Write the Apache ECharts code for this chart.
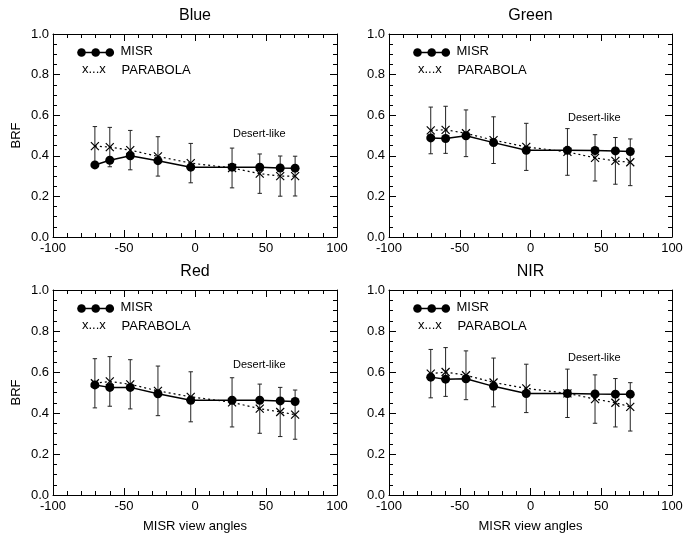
<!DOCTYPE html>
<html>
<head>
<meta charset="utf-8">
<script src="https://cdn.jsdelivr.net/npm/echarts@6/dist/echarts.min.js"></script>
<style>
  html, body { margin: 0; padding: 0; background: #fff; }
  #chart { width: 697px; height: 535px; }
</style>
</head>
<body>
<div id="chart"></div>
<script>
// MISR view angles (deg)
const angles = [-70.5, -60, -45.6, -26.1, -3, 26.1, 45.6, 60, 70.5]

const panelNames = ['Blue', 'Green', 'Red', 'NIR']

const misrBlue = [0.355, 0.378, 0.400, 0.376, 0.344, 0.344, 0.344, 0.340, 0.339]
const parBlue = [0.448, 0.443, 0.428, 0.397, 0.364, 0.340, 0.312, 0.300, 0.300]
const errBlue = [0.096, 0.097, 0.097, 0.097, 0.097, 0.098, 0.097, 0.099, 0.098]

const misrGreen = [0.488, 0.485, 0.499, 0.465, 0.427, 0.427, 0.426, 0.424, 0.421]
const parGreen = [0.525, 0.528, 0.511, 0.477, 0.444, 0.419, 0.390, 0.375, 0.368]
const errGreen = [0.115, 0.116, 0.115, 0.115, 0.116, 0.115, 0.114, 0.115, 0.115]

const misrRed = [0.537, 0.525, 0.525, 0.494, 0.462, 0.462, 0.462, 0.459, 0.456]
const parRed = [0.545, 0.554, 0.540, 0.508, 0.479, 0.452, 0.421, 0.405, 0.392]
const errRed = [0.120, 0.121, 0.120, 0.121, 0.122, 0.120, 0.120, 0.120, 0.120]

const misrNir = [0.575, 0.565, 0.567, 0.530, 0.495, 0.495, 0.493, 0.492, 0.492]
const parNir = [0.592, 0.600, 0.584, 0.549, 0.520, 0.496, 0.468, 0.450, 0.430]
const errNir = [0.118, 0.119, 0.119, 0.119, 0.118, 0.118, 0.118, 0.118, 0.118]

const misrAll = [misrBlue, misrGreen, misrRed, misrNir]
const parAll = [parBlue, parGreen, parRed, parNir]
const errAll = [errBlue, errGreen, errRed, errNir]

const FONT = '"Liberation Sans", Arial, Helvetica, sans-serif'

// panel boxes (px)
const grids = [
  { left: 53, top: 34, width: 284, height: 203 },
  { left: 389, top: 34, width: 283, height: 203 },
  { left: 53, top: 290, width: 284, height: 205 },
  { left: 389, top: 290, width: 283, height: 205 }
]
// where "Desert-like" sits in each panel
const notePos = [[233, 134], [568, 118], [233, 365], [568, 358]]

const crossPath = 'path://M0,0L10,10M10,0L0,10'

const xAxes = []
const yAxes = []
const series = []
const graphics = []

function errorBars(params, api) {
  const x = api.value(0)
  const lo = api.coord([x, api.value(1)])
  const hi = api.coord([x, api.value(2)])
  const cap = 2.2
  const st = { stroke: '#222', lineWidth: 1 }
  return {
    type: 'group',
    children: [
      { type: 'line', shape: { x1: lo[0], y1: lo[1], x2: hi[0], y2: hi[1] }, style: st },
      { type: 'line', shape: { x1: hi[0] - cap, y1: hi[1], x2: hi[0] + cap, y2: hi[1] }, style: st },
      { type: 'line', shape: { x1: lo[0] - cap, y1: lo[1], x2: lo[0] + cap, y2: lo[1] }, style: st }
    ]
  }
}

grids.forEach((g, i) => {
  const bottomRow = i >= 2
  const leftCol = i % 2 === 0
  const tick = { show: true, inside: true, length: 7, lineStyle: { color: '#000', width: 1 } }
  const axisLine = { show: true, onZero: false, lineStyle: { color: '#000', width: 1 } }
  const xMinor = { show: true, splitNumber: 5, length: 4, lineStyle: { color: '#000' } }
  const yMinor = { show: true, splitNumber: 4, length: 4, lineStyle: { color: '#000' } }

  xAxes.push({
    gridIndex: i, type: 'value', position: 'bottom', min: -100, max: 100, interval: 50,
    axisLine: axisLine, axisTick: tick, minorTick: xMinor,
    splitLine: { show: false },
    axisLabel: { color: '#000', fontSize: 13, fontFamily: FONT, margin: 5 },
    name: bottomRow ? 'MISR view angles' : '',
    nameLocation: 'middle', nameGap: 25,
    nameTextStyle: { color: '#000', fontSize: 13, fontFamily: FONT }
  })
  xAxes.push({
    gridIndex: i, type: 'value', position: 'top', min: -100, max: 100, interval: 50,
    axisLine: axisLine, axisTick: tick, minorTick: xMinor,
    splitLine: { show: false }, axisLabel: { show: false }
  })
  yAxes.push({
    gridIndex: i, type: 'value', position: 'left', min: 0, max: 1, interval: 0.2,
    axisLine: axisLine, axisTick: tick, minorTick: yMinor,
    splitLine: { show: false },
    axisLabel: { color: '#000', fontSize: 13, fontFamily: FONT, margin: 4, formatter: v => v.toFixed(1) },
    name: leftCol ? 'BRF' : '',
    nameLocation: 'middle', nameGap: 30,
    nameTextStyle: { color: '#000', fontSize: 13, fontFamily: FONT }
  })
  yAxes.push({
    gridIndex: i, type: 'value', position: 'right', min: 0, max: 1, interval: 0.2,
    axisLine: axisLine, axisTick: tick, minorTick: yMinor,
    splitLine: { show: false }, axisLabel: { show: false }
  })

  const par = parAll[i]
  const err = errAll[i]
  series.push({
    type: 'custom', xAxisIndex: 2 * i, yAxisIndex: 2 * i,
    renderItem: errorBars,
    data: angles.map((a, k) => [a, par[k] - err[k], par[k] + err[k]]),
    z: 2
  })
  series.push({
    name: 'PARABOLA', type: 'line', xAxisIndex: 2 * i, yAxisIndex: 2 * i,
    data: angles.map((a, k) => [a, par[k]]),
    symbol: crossPath, symbolSize: 8,
    itemStyle: { color: 'transparent', borderColor: '#000', borderWidth: 1.2 },
    lineStyle: { color: '#000', width: 1.2, type: [2, 3] },
    z: 3
  })
  series.push({
    name: 'MISR', type: 'line', xAxisIndex: 2 * i, yAxisIndex: 2 * i,
    data: angles.map((a, k) => [a, misrAll[i][k]]),
    symbol: 'circle', symbolSize: 9,
    itemStyle: { color: '#000' },
    lineStyle: { color: '#000', width: 1.5 },
    z: 4
  })

  // title, centred over the panel
  graphics.push({
    type: 'text', x: g.left + g.width / 2, y: g.top - 26,
    style: { text: panelNames[i], font: '16px ' + FONT, fill: '#000', textAlign: 'center' }
  })
  // legend
  const lx = g.left, ly = g.top
  graphics.push({ type: 'line', shape: { x1: lx + 28.5, y1: ly + 18.5, x2: lx + 57, y2: ly + 18.5 }, style: { stroke: '#000', lineWidth: 1.5 } })
  ;[28.5, 42.7, 56.8].forEach(dx => {
    graphics.push({ type: 'circle', shape: { cx: lx + dx, cy: ly + 18.5, r: 4.3 }, style: { fill: '#000' } })
  })
  graphics.push({ type: 'text', left: lx + 67.5, top: ly + 11, style: { text: 'MISR', font: '13px ' + FONT, fill: '#000' } })
  graphics.push({ type: 'text', left: lx + 29, top: ly + 28.5, style: { text: 'x...x', font: '13px ' + FONT, fill: '#000' } })
  graphics.push({ type: 'text', left: lx + 68.5, top: ly + 30, style: { text: 'PARABOLA', font: '13px ' + FONT, fill: '#000' } })
  // note
  graphics.push({
    type: 'text', left: notePos[i][0], top: notePos[i][1] - 6,
    style: { text: 'Desert-like', font: '11px ' + FONT, fill: '#000' }
  })
})

const chart = echarts.init(document.getElementById('chart'))
chart.setOption({
  backgroundColor: '#fff',
  animation: false,
  grid: grids,
  xAxis: xAxes,
  yAxis: yAxes,
  series: series,
  graphic: graphics
})
</script>
</body>
</html>
